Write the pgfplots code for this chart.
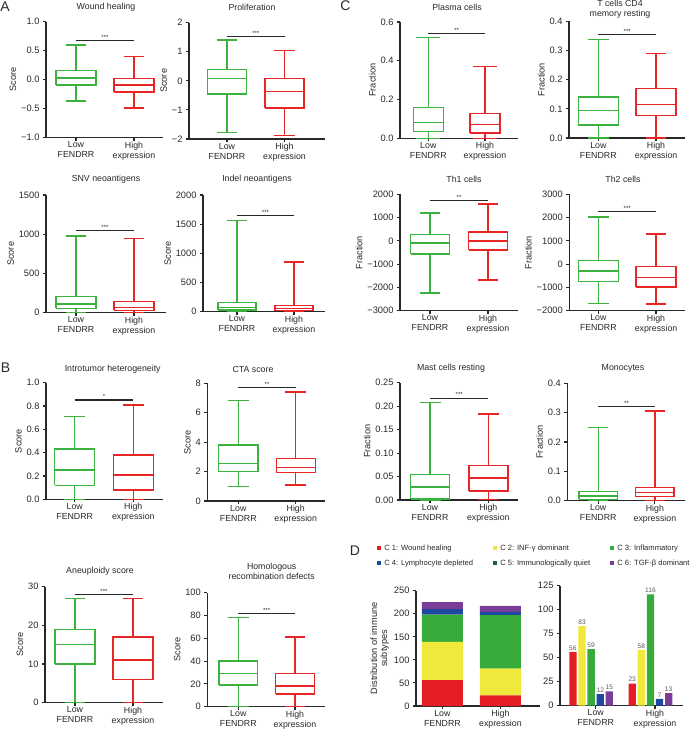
\documentclass[border=0pt]{standalone}
\usepackage{fontspec}
\setmainfont{Liberation Sans}
\usepackage{pgfplots}
\pgfplotsset{compat=1.18}

\definecolor{gbox}{RGB}{60,178,62}
\definecolor{rbox}{RGB}{232,38,38}
\definecolor{ink}{RGB}{40,40,40}
\definecolor{c1}{RGB}{228,30,36}
\definecolor{c2}{RGB}{240,233,60}
\definecolor{c3}{RGB}{55,172,58}
\definecolor{c4}{RGB}{30,72,160}
\definecolor{c5}{RGB}{22,100,55}
\definecolor{c6}{RGB}{122,62,152}

\newcommand\fTk{\fontsize{9.3}{10.2}\selectfont}
\newcommand\fXl{\fontsize{8.8}{10}\selectfont}
\newcommand\fTtl{\fontsize{8.8}{9.8}\selectfont}
\newcommand\fLb{\fontsize{9.2}{10}\selectfont}
\newcommand\fSt{\fontsize{6}{6}\selectfont}
\newcommand\fLeg{\fontsize{7.6}{8}\selectfont}
\newcommand\fVal{\fontsize{6.6}{7}\selectfont}
\newcommand\fBig{\fontsize{14}{14}\selectfont}

% box: colour, position, lower whisker, Q1, median, Q3, upper whisker, box width, cap width
\newcommand\bx[9]{%
  \pgfmathsetmacro\xa{#2-#8/2}\pgfmathsetmacro\xb{#2+#8/2}%
  \pgfmathsetmacro\ca{#2-#9/2}\pgfmathsetmacro\cb{#2+#9/2}%
  \edef\tmp{\noexpand\addplot[#1, line width=1.4pt, line join=miter, unbounded coords=jump]
    coordinates {(\xa,#4) (\xb,#4) (\xb,#6) (\xa,#6) (\xa,#4) (nan,nan)
      (\xa,#5) (\xb,#5) (nan,nan) (#2,#6) (#2,#7) (nan,nan) (\ca,#7) (\cb,#7) (nan,nan)
      (#2,#4) (#2,#3) (nan,nan) (\ca,#3) (\cb,#3)};}\tmp}
% significance bar
\newcommand\sig[2]{\addplot[ink, line width=1.2pt] coordinates {(0,#1) (1,#1)};
  \node[font=\fSt, text=ink, anchor=south, inner sep=1pt] at (axis cs:0.5,#1) {#2};}

\pgfplotsset{
  panel/.style={
    scale only axis, anchor=south west,
    axis x line=bottom, axis y line=left,
    axis line style={-, line width=1.4pt, ink},
    tick style={line width=1.1pt, ink},
    tick align=outside, major tick length=3pt,
    xtick={0,1}, xticklabels={{Low\\FENDRR},{High\\expression}},
    xticklabel style={align=center, font=\fXl, text=ink, inner sep=1pt},
    yticklabel style={font=\fTk, text=ink},
    ylabel style={font=\fLb, text=ink},
    ylabel=Score, ylabel shift=-2pt,
    clip=false,
  },
}

\begin{document}
\begin{tikzpicture}
\path[use as bounding box] (0,0) rectangle (693pt,-733pt);

% ---------- A ----------
\node[font=\fBig, text=ink] at (5pt,-7pt) {A};
\node[font=\fTtl, text=ink] at (106pt,-7pt) {Wound healing};
\begin{axis}[panel, at={(46pt,-137.7pt)}, width=117pt, height=116pt,
  xmin=-0.517, xmax=1.5, ymin=-1, ymax=1,
  ytick={-1,-0.5,0,0.5,1}, yticklabels={−1.0,−0.5,0.0,0.5,1.0}]
\bx{gbox}{0}{-0.37}{-0.09}{0.03}{0.16}{0.6}{0.69}{0.36}
\bx{rbox}{1}{-0.49}{-0.21}{-0.09}{0.02}{0.4}{0.69}{0.36}
\sig{0.68}{***}
\end{axis}

\node[font=\fTtl, text=ink] at (252pt,-7pt) {Proliferation};
\begin{axis}[panel, at={(189pt,-139pt)}, width=136pt, height=116.3pt,
  xmin=-0.661, xmax=1.704, ymin=-2, ymax=2,
  ytick={-2,-1,0,1,2}, yticklabels={−2,−1,0,1,2}]
\bx{gbox}{0}{-1.78}{-0.45}{0.08}{0.4}{1.4}{0.68}{0.36}
\bx{rbox}{1}{-1.87}{-0.93}{-0.36}{0.08}{1.05}{0.68}{0.36}
\sig{1.52}{***}
\end{axis}

\node[font=\fTtl, text=ink] at (106pt,-179pt) {SNV neoantigens};
\begin{axis}[panel, at={(46pt,-312.7pt)}, width=120pt, height=117.7pt,
  xmin=-0.517, xmax=1.552, ymin=0, ymax=1500,
  ytick={0,500,1000,1500}, yticklabels={0,500,1000,1500}]
\bx{gbox}{0}{0}{56}{111}{204}{977}{0.69}{0.36}
\bx{rbox}{1}{0}{30}{69}{140}{948}{0.69}{0.36}
\sig{1045}{***}
\end{axis}

\node[font=\fTtl, text=ink] at (257pt,-179pt) {Indel neoantigens};
\begin{axis}[panel, at={(203pt,-311.7pt)}, width=122pt, height=116.7pt,
  xmin=-0.596, xmax=1.544, ymin=0, ymax=2000,
  ytick={0,500,1000,1500,2000}, yticklabels={0,500,1000,1500,2000}]
\bx{gbox}{0}{0}{29}{69}{154}{1560}{0.67}{0.36}
\bx{rbox}{1}{0}{17}{57}{103}{850}{0.67}{0.36}
\sig{1650}{***}
\end{axis}

% ---------- B ----------
\node[font=\fBig, text=ink] at (5.5pt,-367.5pt) {B};
\node[font=\fTtl, text=ink] at (112.7pt,-369pt) {Introtumor heterogeneity};
\begin{axis}[panel, at={(46pt,-499.3pt)}, width=117pt, height=116.6pt,
  xmin=-0.49, xmax=1.507, ymin=0, ymax=1,
  ytick={0,0.2,0.4,0.6,0.8,1}, yticklabels={0.0,0.2,0.4,0.6,0.8,1.0}]
\bx{gbox}{0}{0}{0.12}{0.25}{0.43}{0.71}{0.68}{0.36}
\bx{rbox}{1}{0}{0.08}{0.21}{0.38}{0.81}{0.68}{0.36}
\sig{0.852}{*}
\end{axis}

\node[font=\fTtl, text=ink] at (253pt,-369pt) {CTA score};
\begin{axis}[panel, at={(207.3pt,-501pt)}, width=117.7pt, height=117.7pt,
  xmin=-0.54, xmax=1.51, ymin=0, ymax=8,
  ytick={0,2,4,6,8}, yticklabels={0,2,4,6,8}]
\bx{gbox}{0}{1.0}{2.0}{2.55}{3.82}{6.85}{0.68}{0.36}
\bx{rbox}{1}{1.08}{1.95}{2.28}{2.9}{7.42}{0.68}{0.36}
\sig{7.7}{**}
\end{axis}

\node[font=\fTtl, text=ink] at (100pt,-571pt) {Aneuploidy score};
\begin{axis}[panel, at={(45pt,-702.7pt)}, width=118pt, height=116pt,
  xmin=-0.517, xmax=1.517, ymin=0, ymax=30,
  ytick={0,10,20,30}, yticklabels={0,10,20,30}]
\bx{gbox}{0}{0}{10}{15}{19}{27}{0.69}{0.35}
\bx{rbox}{1}{0}{6}{11}{17}{27}{0.69}{0.35}
\sig{28}{***}
\end{axis}

\node[font=\fTtl, text=ink, align=center] at (271.7pt,-571pt) {Homologous\\recombination defects};
\begin{axis}[panel, at={(207.3pt,-706.7pt)}, width=117.7pt, height=114pt,
  xmin=-0.547, xmax=1.529, ymin=0, ymax=100,
  ytick={0,20,40,60,80,100}, yticklabels={0,20,40,60,80,100}]
\bx{gbox}{0}{0}{19}{29}{40}{78}{0.68}{0.36}
\bx{rbox}{1}{0}{11}{18}{29}{61}{0.68}{0.36}
\sig{82}{***}
\end{axis}

% ---------- C ----------
\node[font=\fBig, text=ink] at (345.5pt,-6pt) {C};
\node[font=\fTtl, text=ink] at (457pt,-7pt) {Plasma cells};
\begin{axis}[panel, ylabel=Fraction, at={(400pt,-138.3pt)}, width=118pt, height=116.3pt,
  xmin=-0.499, xmax=1.582, ymin=0, ymax=0.6,
  ytick={0,0.2,0.4,0.6}, yticklabels={0.0,0.2,0.4,0.6}]
\bx{gbox}{0}{0}{0.035}{0.083}{0.158}{0.52}{0.53}{0.42}
\bx{rbox}{1}{0}{0.028}{0.07}{0.128}{0.37}{0.53}{0.42}
\sig{0.54}{**}
\end{axis}

\node[font=\fTtl, text=ink, align=center] at (620pt,-9pt) {T cells CD4\\memory resting};
\begin{axis}[panel, ylabel=Fraction, at={(569pt,-138pt)}, width=116pt, height=116.7pt,
  xmin=-0.508, xmax=1.502, ymin=0, ymax=0.4,
  ytick={0,0.1,0.2,0.3,0.4}, yticklabels={0.0,0.1,0.2,0.3,0.4}]
\bx{gbox}{0}{0}{0.045}{0.095}{0.14}{0.338}{0.69}{0.36}
\bx{rbox}{1}{0}{0.077}{0.115}{0.17}{0.29}{0.69}{0.36}
\sig{0.355}{***}
\end{axis}

\node[font=\fTtl, text=ink] at (464pt,-179pt) {Th1 cells};
\begin{axis}[panel, ylabel=Fraction, at={(400pt,-310.7pt)}, width=118pt, height=116.4pt,
  xmin=-0.517, xmax=1.517, ymin=-3000, ymax=2000,
  ytick={-3000,-2000,-1000,0,1000,2000}, yticklabels={−3000,−2000,−1000,0,1000,2000}]
\bx{gbox}{0}{-2240}{-570}{-90}{280}{1200}{0.67}{0.36}
\bx{rbox}{1}{-1680}{-400}{0}{380}{1590}{0.67}{0.36}
\sig{1725}{**}
\end{axis}

\node[font=\fTtl, text=ink] at (623pt,-179pt) {Th2 cells};
\begin{axis}[panel, ylabel=Fraction, at={(569.3pt,-310.7pt)}, width=115.7pt, height=116.4pt,
  xmin=-0.503, xmax=1.502, ymin=-2000, ymax=3000,
  ytick={-2000,-1000,0,1000,2000,3000}, yticklabels={−2000,−1000,0,1000,2000,3000}]
\bx{gbox}{0}{-1680}{-740}{-300}{150}{2030}{0.69}{0.36}
\bx{rbox}{1}{-1720}{-980}{-580}{-90}{1300}{0.69}{0.36}
\sig{2250}{***}
\end{axis}

\node[font=\fTtl, text=ink] at (451pt,-368pt) {Mast cells resting};
\begin{axis}[panel, ylabel=Fraction, at={(400pt,-500pt)}, width=118pt, height=117.3pt,
  xmin=-0.515, xmax=1.509, ymin=0, ymax=0.25,
  ytick={0,0.05,0.1,0.15,0.2,0.25}, yticklabels={0.00,0.05,0.10,0.15,0.20,0.25}]
\bx{gbox}{0}{0}{0.002}{0.028}{0.054}{0.208}{0.67}{0.36}
\bx{rbox}{1}{0.001}{0.019}{0.047}{0.074}{0.183}{0.67}{0.36}
\sig{0.217}{***}
\end{axis}

\node[font=\fTtl, text=ink] at (623pt,-368pt) {Monocytes};
\begin{axis}[panel, ylabel=Fraction, at={(567.3pt,-500.7pt)}, width=117.7pt, height=117.4pt,
  xmin=-0.545, xmax=1.531, ymin=0, ymax=0.4,
  ytick={0,0.1,0.2,0.3,0.4}, yticklabels={0.0,0.1,0.2,0.3,0.4}]
\bx{gbox}{0}{0}{0.005}{0.016}{0.032}{0.25}{0.68}{0.36}
\bx{rbox}{1}{0}{0.014}{0.028}{0.046}{0.306}{0.68}{0.36}
\sig{0.32}{**}
\end{axis}

% ---------- D ----------
\node[font=\fBig, text=ink] at (355pt,-551pt) {D};
\begin{axis}[panel, at={(416pt,-706pt)}, width=124pt, height=115.3pt,
  xmin=-0.455, xmax=1.683, ymin=0, ymax=250,
  ytick={0,50,100,150,200,250}, yticklabels={0,50,100,150,200,250},
  ylabel={Distribution of immune\\subtypes}, ylabel style={align=center},
  ybar stacked, bar width=0.707,
  legend columns=3, legend cell align=left,
  legend image code/.code={\fill[#1] (0pt,-2pt) rectangle (4.2pt,2.2pt);},
  legend style={at={(-0.3145,1.409)}, anchor=north west, font=\fLeg, text=ink,
    draw=none, fill=none, inner sep=0pt, row sep=5.9pt,
    nodes={inner sep=1pt, text height=5.6pt, text depth=1.5pt},
    /tikz/every odd column/.append style={column sep=2pt},
    /tikz/every even column/.append style={column sep=19pt}}]
\addplot[fill=c1, draw=none] coordinates {(0,56) (1,23)};
\addlegendentry{C 1: Wound healing}
\addplot[fill=c2, draw=none] coordinates {(0,83) (1,58)};
\addlegendentry{C 2: INF-γ dominant}
\addplot[fill=c3, draw=none] coordinates {(0,59) (1,116)};
\addlegendentry{C 3: Inflammatory}
\addplot[fill=c4, draw=none] coordinates {(0,12) (1,7)};
\addlegendentry{C 4: Lymphocyte depleted}
\addplot[fill=c5, draw=none] coordinates {(0,0) (1,0)};
\addlegendentry{C 5: Immunologically quiet}
\addplot[fill=c6, draw=none] coordinates {(0,15) (1,13)};
\addlegendentry{C 6: TGF-β dominant}
\end{axis}

% group width: 59.3pt per category; slots of 0.1535 units
\begin{axis}[panel, ylabel={}, at={(560pt,-705.7pt)}, width=123pt, height=120pt,
  xmin=-0.602, xmax=1.472, ymin=0, ymax=125,
  ytick={0,25,50,75,100,125}, yticklabels={0,25,50,75,100,125},
  /pgf/number format/assume math mode=true,
  nodes near coords,
  every node near coord/.append style={font=\fVal, text=black!65, inner sep=1.5pt}]
\addplot[ybar, bar width=0.123, bar shift=-0.384, fill=c1, draw=none,
  every node near coord/.append style={xshift=-22.8pt}] coordinates {(0,56) (1,23)};
\addplot[ybar, bar width=0.123, bar shift=-0.230, fill=c2, draw=none,
  every node near coord/.append style={xshift=-13.65pt}] coordinates {(0,83) (1,58)};
\addplot[ybar, bar width=0.123, bar shift=-0.077, fill=c3, draw=none,
  every node near coord/.append style={xshift=-4.55pt}] coordinates {(0,59) (1,116)};
\addplot[ybar, bar width=0.123, bar shift=0.077, fill=c4, draw=none,
  every node near coord/.append style={xshift=4.55pt}] coordinates {(0,12) (1,7)};
\addplot[ybar, bar width=0.123, bar shift=0.230, fill=c6, draw=none,
  every node near coord/.append style={xshift=13.65pt}] coordinates {(0,15) (1,13)};
\end{axis}
\end{tikzpicture}
\end{document}
